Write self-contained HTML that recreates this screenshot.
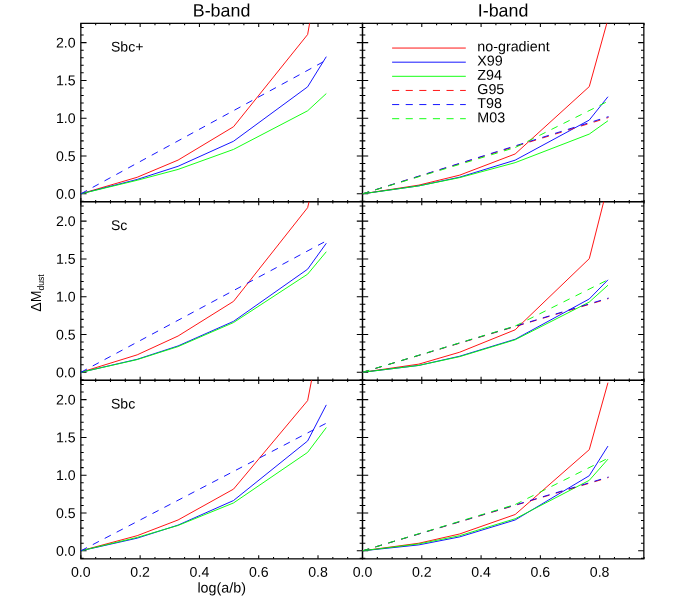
<!DOCTYPE html>
<html><head><meta charset="utf-8"><title>chart</title>
<style>html,body{margin:0;padding:0;background:#fff}body{width:673px;height:606px;overflow:hidden}</style></head>
<body>
<svg width="673" height="606" viewBox="0 0 673 606" style="display:block;will-change:transform">
<rect width="673" height="606" fill="#fff"/>
<defs>
<clipPath id="c00"><rect x="80.85" y="23.35" width="281.65" height="178.35"/></clipPath>
<clipPath id="c01"><rect x="362.50" y="23.35" width="281.35" height="178.35"/></clipPath>
<clipPath id="c10"><rect x="80.85" y="201.70" width="281.65" height="178.60"/></clipPath>
<clipPath id="c11"><rect x="362.50" y="201.70" width="281.35" height="178.60"/></clipPath>
<clipPath id="c20"><rect x="80.85" y="380.30" width="281.65" height="178.55"/></clipPath>
<clipPath id="c21"><rect x="362.50" y="380.30" width="281.35" height="178.55"/></clipPath>
</defs>
<g stroke="#000" fill="none" stroke-linecap="square">
<rect x="80.85" y="23.35" width="281.65" height="178.35" stroke-width="1.25"/>
<rect x="362.50" y="23.35" width="281.35" height="178.35" stroke-width="1.25"/>
<rect x="80.85" y="201.70" width="281.65" height="178.60" stroke-width="1.25"/>
<rect x="362.50" y="201.70" width="281.35" height="178.60" stroke-width="1.25"/>
<rect x="80.85" y="380.30" width="281.65" height="178.55" stroke-width="1.25"/>
<rect x="362.50" y="380.30" width="281.35" height="178.55" stroke-width="1.25"/>
</g>
<g stroke="#000" stroke-width="1.05" fill="none">
<path d="M80.85 201.70v-3.6M80.85 23.35v3.6"/>
<path d="M95.67 201.70v-1.8M95.67 23.35v1.8"/>
<path d="M110.49 201.70v-1.8M110.49 23.35v1.8"/>
<path d="M125.32 201.70v-1.8M125.32 23.35v1.8"/>
<path d="M140.14 201.70v-3.6M140.14 23.35v3.6"/>
<path d="M154.96 201.70v-1.8M154.96 23.35v1.8"/>
<path d="M169.79 201.70v-1.8M169.79 23.35v1.8"/>
<path d="M184.61 201.70v-1.8M184.61 23.35v1.8"/>
<path d="M199.43 201.70v-3.6M199.43 23.35v3.6"/>
<path d="M214.25 201.70v-1.8M214.25 23.35v1.8"/>
<path d="M229.07 201.70v-1.8M229.07 23.35v1.8"/>
<path d="M243.90 201.70v-1.8M243.90 23.35v1.8"/>
<path d="M258.72 201.70v-3.6M258.72 23.35v3.6"/>
<path d="M273.54 201.70v-1.8M273.54 23.35v1.8"/>
<path d="M288.37 201.70v-1.8M288.37 23.35v1.8"/>
<path d="M303.19 201.70v-1.8M303.19 23.35v1.8"/>
<path d="M318.01 201.70v-3.6M318.01 23.35v3.6"/>
<path d="M332.83 201.70v-1.8M332.83 23.35v1.8"/>
<path d="M347.65 201.70v-1.8M347.65 23.35v1.8"/>
<path d="M362.48 201.70v-1.8M362.48 23.35v1.8"/>
<path d="M80.85 201.36h2.85M362.50 201.36h-2.85"/>
<path d="M80.85 193.80h5.7M362.50 193.80h-5.7"/>
<path d="M80.85 186.24h2.85M362.50 186.24h-2.85"/>
<path d="M80.85 178.68h2.85M362.50 178.68h-2.85"/>
<path d="M80.85 171.12h2.85M362.50 171.12h-2.85"/>
<path d="M80.85 163.56h2.85M362.50 163.56h-2.85"/>
<path d="M80.85 156.00h5.7M362.50 156.00h-5.7"/>
<path d="M80.85 148.44h2.85M362.50 148.44h-2.85"/>
<path d="M80.85 140.88h2.85M362.50 140.88h-2.85"/>
<path d="M80.85 133.32h2.85M362.50 133.32h-2.85"/>
<path d="M80.85 125.76h2.85M362.50 125.76h-2.85"/>
<path d="M80.85 118.20h5.7M362.50 118.20h-5.7"/>
<path d="M80.85 110.64h2.85M362.50 110.64h-2.85"/>
<path d="M80.85 103.08h2.85M362.50 103.08h-2.85"/>
<path d="M80.85 95.52h2.85M362.50 95.52h-2.85"/>
<path d="M80.85 87.96h2.85M362.50 87.96h-2.85"/>
<path d="M80.85 80.40h5.7M362.50 80.40h-5.7"/>
<path d="M80.85 72.84h2.85M362.50 72.84h-2.85"/>
<path d="M80.85 65.28h2.85M362.50 65.28h-2.85"/>
<path d="M80.85 57.72h2.85M362.50 57.72h-2.85"/>
<path d="M80.85 50.16h2.85M362.50 50.16h-2.85"/>
<path d="M80.85 42.60h5.7M362.50 42.60h-5.7"/>
<path d="M80.85 35.04h2.85M362.50 35.04h-2.85"/>
<path d="M80.85 27.48h2.85M362.50 27.48h-2.85"/>
<path d="M362.50 201.70v-3.6M362.50 23.35v3.6"/>
<path d="M377.32 201.70v-1.8M377.32 23.35v1.8"/>
<path d="M392.14 201.70v-1.8M392.14 23.35v1.8"/>
<path d="M406.97 201.70v-1.8M406.97 23.35v1.8"/>
<path d="M421.79 201.70v-3.6M421.79 23.35v3.6"/>
<path d="M436.61 201.70v-1.8M436.61 23.35v1.8"/>
<path d="M451.44 201.70v-1.8M451.44 23.35v1.8"/>
<path d="M466.26 201.70v-1.8M466.26 23.35v1.8"/>
<path d="M481.08 201.70v-3.6M481.08 23.35v3.6"/>
<path d="M495.90 201.70v-1.8M495.90 23.35v1.8"/>
<path d="M510.73 201.70v-1.8M510.73 23.35v1.8"/>
<path d="M525.55 201.70v-1.8M525.55 23.35v1.8"/>
<path d="M540.37 201.70v-3.6M540.37 23.35v3.6"/>
<path d="M555.19 201.70v-1.8M555.19 23.35v1.8"/>
<path d="M570.01 201.70v-1.8M570.01 23.35v1.8"/>
<path d="M584.84 201.70v-1.8M584.84 23.35v1.8"/>
<path d="M599.66 201.70v-3.6M599.66 23.35v3.6"/>
<path d="M614.48 201.70v-1.8M614.48 23.35v1.8"/>
<path d="M629.31 201.70v-1.8M629.31 23.35v1.8"/>
<path d="M644.13 201.70v-1.8M644.13 23.35v1.8"/>
<path d="M362.50 201.36h2.85M643.85 201.36h-2.85"/>
<path d="M362.50 193.80h5.7M643.85 193.80h-5.7"/>
<path d="M362.50 186.24h2.85M643.85 186.24h-2.85"/>
<path d="M362.50 178.68h2.85M643.85 178.68h-2.85"/>
<path d="M362.50 171.12h2.85M643.85 171.12h-2.85"/>
<path d="M362.50 163.56h2.85M643.85 163.56h-2.85"/>
<path d="M362.50 156.00h5.7M643.85 156.00h-5.7"/>
<path d="M362.50 148.44h2.85M643.85 148.44h-2.85"/>
<path d="M362.50 140.88h2.85M643.85 140.88h-2.85"/>
<path d="M362.50 133.32h2.85M643.85 133.32h-2.85"/>
<path d="M362.50 125.76h2.85M643.85 125.76h-2.85"/>
<path d="M362.50 118.20h5.7M643.85 118.20h-5.7"/>
<path d="M362.50 110.64h2.85M643.85 110.64h-2.85"/>
<path d="M362.50 103.08h2.85M643.85 103.08h-2.85"/>
<path d="M362.50 95.52h2.85M643.85 95.52h-2.85"/>
<path d="M362.50 87.96h2.85M643.85 87.96h-2.85"/>
<path d="M362.50 80.40h5.7M643.85 80.40h-5.7"/>
<path d="M362.50 72.84h2.85M643.85 72.84h-2.85"/>
<path d="M362.50 65.28h2.85M643.85 65.28h-2.85"/>
<path d="M362.50 57.72h2.85M643.85 57.72h-2.85"/>
<path d="M362.50 50.16h2.85M643.85 50.16h-2.85"/>
<path d="M362.50 42.60h5.7M643.85 42.60h-5.7"/>
<path d="M362.50 35.04h2.85M643.85 35.04h-2.85"/>
<path d="M362.50 27.48h2.85M643.85 27.48h-2.85"/>
<path d="M80.85 380.30v-3.6M80.85 201.70v3.6"/>
<path d="M95.67 380.30v-1.8M95.67 201.70v1.8"/>
<path d="M110.49 380.30v-1.8M110.49 201.70v1.8"/>
<path d="M125.32 380.30v-1.8M125.32 201.70v1.8"/>
<path d="M140.14 380.30v-3.6M140.14 201.70v3.6"/>
<path d="M154.96 380.30v-1.8M154.96 201.70v1.8"/>
<path d="M169.79 380.30v-1.8M169.79 201.70v1.8"/>
<path d="M184.61 380.30v-1.8M184.61 201.70v1.8"/>
<path d="M199.43 380.30v-3.6M199.43 201.70v3.6"/>
<path d="M214.25 380.30v-1.8M214.25 201.70v1.8"/>
<path d="M229.07 380.30v-1.8M229.07 201.70v1.8"/>
<path d="M243.90 380.30v-1.8M243.90 201.70v1.8"/>
<path d="M258.72 380.30v-3.6M258.72 201.70v3.6"/>
<path d="M273.54 380.30v-1.8M273.54 201.70v1.8"/>
<path d="M288.37 380.30v-1.8M288.37 201.70v1.8"/>
<path d="M303.19 380.30v-1.8M303.19 201.70v1.8"/>
<path d="M318.01 380.30v-3.6M318.01 201.70v3.6"/>
<path d="M332.83 380.30v-1.8M332.83 201.70v1.8"/>
<path d="M347.65 380.30v-1.8M347.65 201.70v1.8"/>
<path d="M362.48 380.30v-1.8M362.48 201.70v1.8"/>
<path d="M80.85 379.86h2.85M362.50 379.86h-2.85"/>
<path d="M80.85 372.30h5.7M362.50 372.30h-5.7"/>
<path d="M80.85 364.74h2.85M362.50 364.74h-2.85"/>
<path d="M80.85 357.18h2.85M362.50 357.18h-2.85"/>
<path d="M80.85 349.62h2.85M362.50 349.62h-2.85"/>
<path d="M80.85 342.06h2.85M362.50 342.06h-2.85"/>
<path d="M80.85 334.50h5.7M362.50 334.50h-5.7"/>
<path d="M80.85 326.94h2.85M362.50 326.94h-2.85"/>
<path d="M80.85 319.38h2.85M362.50 319.38h-2.85"/>
<path d="M80.85 311.82h2.85M362.50 311.82h-2.85"/>
<path d="M80.85 304.26h2.85M362.50 304.26h-2.85"/>
<path d="M80.85 296.70h5.7M362.50 296.70h-5.7"/>
<path d="M80.85 289.14h2.85M362.50 289.14h-2.85"/>
<path d="M80.85 281.58h2.85M362.50 281.58h-2.85"/>
<path d="M80.85 274.02h2.85M362.50 274.02h-2.85"/>
<path d="M80.85 266.46h2.85M362.50 266.46h-2.85"/>
<path d="M80.85 258.90h5.7M362.50 258.90h-5.7"/>
<path d="M80.85 251.34h2.85M362.50 251.34h-2.85"/>
<path d="M80.85 243.78h2.85M362.50 243.78h-2.85"/>
<path d="M80.85 236.22h2.85M362.50 236.22h-2.85"/>
<path d="M80.85 228.66h2.85M362.50 228.66h-2.85"/>
<path d="M80.85 221.10h5.7M362.50 221.10h-5.7"/>
<path d="M80.85 213.54h2.85M362.50 213.54h-2.85"/>
<path d="M80.85 205.98h2.85M362.50 205.98h-2.85"/>
<path d="M362.50 380.30v-3.6M362.50 201.70v3.6"/>
<path d="M377.32 380.30v-1.8M377.32 201.70v1.8"/>
<path d="M392.14 380.30v-1.8M392.14 201.70v1.8"/>
<path d="M406.97 380.30v-1.8M406.97 201.70v1.8"/>
<path d="M421.79 380.30v-3.6M421.79 201.70v3.6"/>
<path d="M436.61 380.30v-1.8M436.61 201.70v1.8"/>
<path d="M451.44 380.30v-1.8M451.44 201.70v1.8"/>
<path d="M466.26 380.30v-1.8M466.26 201.70v1.8"/>
<path d="M481.08 380.30v-3.6M481.08 201.70v3.6"/>
<path d="M495.90 380.30v-1.8M495.90 201.70v1.8"/>
<path d="M510.73 380.30v-1.8M510.73 201.70v1.8"/>
<path d="M525.55 380.30v-1.8M525.55 201.70v1.8"/>
<path d="M540.37 380.30v-3.6M540.37 201.70v3.6"/>
<path d="M555.19 380.30v-1.8M555.19 201.70v1.8"/>
<path d="M570.01 380.30v-1.8M570.01 201.70v1.8"/>
<path d="M584.84 380.30v-1.8M584.84 201.70v1.8"/>
<path d="M599.66 380.30v-3.6M599.66 201.70v3.6"/>
<path d="M614.48 380.30v-1.8M614.48 201.70v1.8"/>
<path d="M629.31 380.30v-1.8M629.31 201.70v1.8"/>
<path d="M644.13 380.30v-1.8M644.13 201.70v1.8"/>
<path d="M362.50 379.86h2.85M643.85 379.86h-2.85"/>
<path d="M362.50 372.30h5.7M643.85 372.30h-5.7"/>
<path d="M362.50 364.74h2.85M643.85 364.74h-2.85"/>
<path d="M362.50 357.18h2.85M643.85 357.18h-2.85"/>
<path d="M362.50 349.62h2.85M643.85 349.62h-2.85"/>
<path d="M362.50 342.06h2.85M643.85 342.06h-2.85"/>
<path d="M362.50 334.50h5.7M643.85 334.50h-5.7"/>
<path d="M362.50 326.94h2.85M643.85 326.94h-2.85"/>
<path d="M362.50 319.38h2.85M643.85 319.38h-2.85"/>
<path d="M362.50 311.82h2.85M643.85 311.82h-2.85"/>
<path d="M362.50 304.26h2.85M643.85 304.26h-2.85"/>
<path d="M362.50 296.70h5.7M643.85 296.70h-5.7"/>
<path d="M362.50 289.14h2.85M643.85 289.14h-2.85"/>
<path d="M362.50 281.58h2.85M643.85 281.58h-2.85"/>
<path d="M362.50 274.02h2.85M643.85 274.02h-2.85"/>
<path d="M362.50 266.46h2.85M643.85 266.46h-2.85"/>
<path d="M362.50 258.90h5.7M643.85 258.90h-5.7"/>
<path d="M362.50 251.34h2.85M643.85 251.34h-2.85"/>
<path d="M362.50 243.78h2.85M643.85 243.78h-2.85"/>
<path d="M362.50 236.22h2.85M643.85 236.22h-2.85"/>
<path d="M362.50 228.66h2.85M643.85 228.66h-2.85"/>
<path d="M362.50 221.10h5.7M643.85 221.10h-5.7"/>
<path d="M362.50 213.54h2.85M643.85 213.54h-2.85"/>
<path d="M362.50 205.98h2.85M643.85 205.98h-2.85"/>
<path d="M80.85 558.85v-3.6M80.85 380.30v3.6"/>
<path d="M95.67 558.85v-1.8M95.67 380.30v1.8"/>
<path d="M110.49 558.85v-1.8M110.49 380.30v1.8"/>
<path d="M125.32 558.85v-1.8M125.32 380.30v1.8"/>
<path d="M140.14 558.85v-3.6M140.14 380.30v3.6"/>
<path d="M154.96 558.85v-1.8M154.96 380.30v1.8"/>
<path d="M169.79 558.85v-1.8M169.79 380.30v1.8"/>
<path d="M184.61 558.85v-1.8M184.61 380.30v1.8"/>
<path d="M199.43 558.85v-3.6M199.43 380.30v3.6"/>
<path d="M214.25 558.85v-1.8M214.25 380.30v1.8"/>
<path d="M229.07 558.85v-1.8M229.07 380.30v1.8"/>
<path d="M243.90 558.85v-1.8M243.90 380.30v1.8"/>
<path d="M258.72 558.85v-3.6M258.72 380.30v3.6"/>
<path d="M273.54 558.85v-1.8M273.54 380.30v1.8"/>
<path d="M288.37 558.85v-1.8M288.37 380.30v1.8"/>
<path d="M303.19 558.85v-1.8M303.19 380.30v1.8"/>
<path d="M318.01 558.85v-3.6M318.01 380.30v3.6"/>
<path d="M332.83 558.85v-1.8M332.83 380.30v1.8"/>
<path d="M347.65 558.85v-1.8M347.65 380.30v1.8"/>
<path d="M362.48 558.85v-1.8M362.48 380.30v1.8"/>
<path d="M80.85 558.36h2.85M362.50 558.36h-2.85"/>
<path d="M80.85 550.80h5.7M362.50 550.80h-5.7"/>
<path d="M80.85 543.24h2.85M362.50 543.24h-2.85"/>
<path d="M80.85 535.68h2.85M362.50 535.68h-2.85"/>
<path d="M80.85 528.12h2.85M362.50 528.12h-2.85"/>
<path d="M80.85 520.56h2.85M362.50 520.56h-2.85"/>
<path d="M80.85 513.00h5.7M362.50 513.00h-5.7"/>
<path d="M80.85 505.44h2.85M362.50 505.44h-2.85"/>
<path d="M80.85 497.88h2.85M362.50 497.88h-2.85"/>
<path d="M80.85 490.32h2.85M362.50 490.32h-2.85"/>
<path d="M80.85 482.76h2.85M362.50 482.76h-2.85"/>
<path d="M80.85 475.20h5.7M362.50 475.20h-5.7"/>
<path d="M80.85 467.64h2.85M362.50 467.64h-2.85"/>
<path d="M80.85 460.08h2.85M362.50 460.08h-2.85"/>
<path d="M80.85 452.52h2.85M362.50 452.52h-2.85"/>
<path d="M80.85 444.96h2.85M362.50 444.96h-2.85"/>
<path d="M80.85 437.40h5.7M362.50 437.40h-5.7"/>
<path d="M80.85 429.84h2.85M362.50 429.84h-2.85"/>
<path d="M80.85 422.28h2.85M362.50 422.28h-2.85"/>
<path d="M80.85 414.72h2.85M362.50 414.72h-2.85"/>
<path d="M80.85 407.16h2.85M362.50 407.16h-2.85"/>
<path d="M80.85 399.60h5.7M362.50 399.60h-5.7"/>
<path d="M80.85 392.04h2.85M362.50 392.04h-2.85"/>
<path d="M80.85 384.48h2.85M362.50 384.48h-2.85"/>
<path d="M362.50 558.85v-3.6M362.50 380.30v3.6"/>
<path d="M377.32 558.85v-1.8M377.32 380.30v1.8"/>
<path d="M392.14 558.85v-1.8M392.14 380.30v1.8"/>
<path d="M406.97 558.85v-1.8M406.97 380.30v1.8"/>
<path d="M421.79 558.85v-3.6M421.79 380.30v3.6"/>
<path d="M436.61 558.85v-1.8M436.61 380.30v1.8"/>
<path d="M451.44 558.85v-1.8M451.44 380.30v1.8"/>
<path d="M466.26 558.85v-1.8M466.26 380.30v1.8"/>
<path d="M481.08 558.85v-3.6M481.08 380.30v3.6"/>
<path d="M495.90 558.85v-1.8M495.90 380.30v1.8"/>
<path d="M510.73 558.85v-1.8M510.73 380.30v1.8"/>
<path d="M525.55 558.85v-1.8M525.55 380.30v1.8"/>
<path d="M540.37 558.85v-3.6M540.37 380.30v3.6"/>
<path d="M555.19 558.85v-1.8M555.19 380.30v1.8"/>
<path d="M570.01 558.85v-1.8M570.01 380.30v1.8"/>
<path d="M584.84 558.85v-1.8M584.84 380.30v1.8"/>
<path d="M599.66 558.85v-3.6M599.66 380.30v3.6"/>
<path d="M614.48 558.85v-1.8M614.48 380.30v1.8"/>
<path d="M629.31 558.85v-1.8M629.31 380.30v1.8"/>
<path d="M644.13 558.85v-1.8M644.13 380.30v1.8"/>
<path d="M362.50 558.36h2.85M643.85 558.36h-2.85"/>
<path d="M362.50 550.80h5.7M643.85 550.80h-5.7"/>
<path d="M362.50 543.24h2.85M643.85 543.24h-2.85"/>
<path d="M362.50 535.68h2.85M643.85 535.68h-2.85"/>
<path d="M362.50 528.12h2.85M643.85 528.12h-2.85"/>
<path d="M362.50 520.56h2.85M643.85 520.56h-2.85"/>
<path d="M362.50 513.00h5.7M643.85 513.00h-5.7"/>
<path d="M362.50 505.44h2.85M643.85 505.44h-2.85"/>
<path d="M362.50 497.88h2.85M643.85 497.88h-2.85"/>
<path d="M362.50 490.32h2.85M643.85 490.32h-2.85"/>
<path d="M362.50 482.76h2.85M643.85 482.76h-2.85"/>
<path d="M362.50 475.20h5.7M643.85 475.20h-5.7"/>
<path d="M362.50 467.64h2.85M643.85 467.64h-2.85"/>
<path d="M362.50 460.08h2.85M643.85 460.08h-2.85"/>
<path d="M362.50 452.52h2.85M643.85 452.52h-2.85"/>
<path d="M362.50 444.96h2.85M643.85 444.96h-2.85"/>
<path d="M362.50 437.40h5.7M643.85 437.40h-5.7"/>
<path d="M362.50 429.84h2.85M643.85 429.84h-2.85"/>
<path d="M362.50 422.28h2.85M643.85 422.28h-2.85"/>
<path d="M362.50 414.72h2.85M643.85 414.72h-2.85"/>
<path d="M362.50 407.16h2.85M643.85 407.16h-2.85"/>
<path d="M362.50 399.60h5.7M643.85 399.60h-5.7"/>
<path d="M362.50 392.04h2.85M643.85 392.04h-2.85"/>
<path d="M362.50 384.48h2.85M643.85 384.48h-2.85"/>
</g>
<g clip-path="url(#c00)" fill="none" stroke-width="0.92" stroke-linejoin="round">
<polyline points="80.85,193.80 137.18,177.28 178.09,160.08 233.52,126.74 307.63,34.51 326.31,-70.80" stroke="#ff0000"/>
<polyline points="80.85,193.80 137.18,179.44 178.09,166.28 233.52,141.26 307.63,86.83 326.31,56.66" stroke="#0000ff"/>
<polyline points="80.85,193.80 137.18,180.27 178.09,169.42 233.52,149.42 307.63,110.79 326.31,93.55" stroke="#00ff00"/>
<polyline points="80.85,193.80 326.90,59.84" stroke="#0000ff" stroke-dasharray="6.9 6.55"/>
</g>
<g clip-path="url(#c10)" fill="none" stroke-width="0.92" stroke-linejoin="round">
<polyline points="80.85,372.30 137.18,354.84 178.09,336.01 233.52,301.39 307.63,207.64 326.31,130.38" stroke="#ff0000"/>
<polyline points="80.85,372.30 137.18,359.30 178.09,345.92 233.52,321.35 307.63,269.18 326.31,243.25" stroke="#0000ff"/>
<polyline points="80.85,372.30 137.18,359.60 178.09,346.60 233.52,322.56 307.63,274.17 326.31,251.72" stroke="#00ff00"/>
<polyline points="80.85,372.30 326.90,240.60" stroke="#0000ff" stroke-dasharray="6.9 6.55"/>
</g>
<g clip-path="url(#c20)" fill="none" stroke-width="0.92" stroke-linejoin="round">
<polyline points="80.85,550.80 137.18,535.68 178.09,519.96 233.52,489.11 307.63,400.58 326.31,304.34" stroke="#ff0000"/>
<polyline points="80.85,550.80 137.18,538.17 178.09,525.10 233.52,500.53 307.63,440.95 326.31,404.89" stroke="#0000ff"/>
<polyline points="80.85,550.80 137.18,537.42 178.09,525.47 233.52,502.95 307.63,452.37 326.31,427.57" stroke="#00ff00"/>
<polyline points="80.85,550.80 326.90,422.88" stroke="#0000ff" stroke-dasharray="6.9 6.55"/>
</g>
<g clip-path="url(#c01)" fill="none" stroke-width="0.92" stroke-linejoin="round">
<polyline points="362.50,193.80 418.83,185.11 459.74,175.13 515.17,153.96 589.28,86.60 607.96,19.16" stroke="#ff0000"/>
<polyline points="362.50,193.80 418.83,185.86 459.74,177.17 515.17,160.16 589.28,120.09 607.96,96.73" stroke="#0000ff"/>
<polyline points="362.50,193.80 418.83,185.86 459.74,177.62 515.17,162.65 589.28,134.08 607.96,120.77" stroke="#00ff00"/>
<polyline points="362.50,193.80 608.55,117.52" stroke="#ff0000" stroke-dasharray="6.9 6.55"/>
<polyline points="362.50,193.80 608.55,116.61" stroke="#0000ff" stroke-dasharray="6.9 6.55"/>
<polyline points="362.50,193.80 515.17,147.53" stroke="#00ff00" stroke-dasharray="6.9 6.55"/>
<polyline points="515.17,147.53 607.96,101.27" stroke="#00ff00" stroke-dasharray="6.9 6.55" stroke-dashoffset="13.28"/>
</g>
<g clip-path="url(#c11)" fill="none" stroke-width="0.92" stroke-linejoin="round">
<polyline points="362.50,372.30 418.83,364.14 459.74,352.19 515.17,329.81 589.28,258.67 607.96,184.81" stroke="#ff0000"/>
<polyline points="362.50,372.30 418.83,365.42 459.74,356.20 515.17,339.26 589.28,298.97 607.96,279.84" stroke="#0000ff"/>
<polyline points="362.50,372.30 418.83,365.42 459.74,356.65 515.17,339.79 589.28,302.07 607.96,285.21" stroke="#00ff00"/>
<polyline points="362.50,372.30 608.55,298.59" stroke="#ff0000" stroke-dasharray="6.9 6.55"/>
<polyline points="362.50,372.30 608.55,298.06" stroke="#0000ff" stroke-dasharray="6.9 6.55"/>
<polyline points="362.50,372.30 515.17,326.03" stroke="#00ff00" stroke-dasharray="6.9 6.55"/>
<polyline points="515.17,326.03 607.96,279.77" stroke="#00ff00" stroke-dasharray="6.9 6.55" stroke-dashoffset="13.28"/>
</g>
<g clip-path="url(#c21)" fill="none" stroke-width="0.92" stroke-linejoin="round">
<polyline points="362.50,550.80 418.83,543.24 459.74,533.94 515.17,514.51 589.28,449.65 607.96,382.67" stroke="#ff0000"/>
<polyline points="362.50,550.80 418.83,544.90 459.74,536.89 515.17,519.96 589.28,475.73 607.96,446.09" stroke="#0000ff"/>
<polyline points="362.50,550.80 418.83,543.92 459.74,535.68 515.17,518.75 589.28,480.34 607.96,459.17" stroke="#00ff00"/>
<polyline points="362.50,550.80 608.55,477.54" stroke="#ff0000" stroke-dasharray="6.9 6.55"/>
<polyline points="362.50,550.80 608.55,477.01" stroke="#0000ff" stroke-dasharray="6.9 6.55"/>
<polyline points="362.50,550.80 515.17,504.53" stroke="#00ff00" stroke-dasharray="6.9 6.55"/>
<polyline points="515.17,504.53 607.96,458.27" stroke="#00ff00" stroke-dasharray="6.9 6.55" stroke-dashoffset="13.28"/>
</g>
<g font-family="Liberation Sans, sans-serif" font-size="14.15" fill="#000">
<text x="75.60" y="198.70" text-anchor="end" transform="rotate(0.03 75.60 198.70)">0.0</text>
<text x="75.60" y="160.90" text-anchor="end" transform="rotate(0.03 75.60 160.90)">0.5</text>
<text x="75.60" y="123.10" text-anchor="end" transform="rotate(0.03 75.60 123.10)">1.0</text>
<text x="75.60" y="85.30" text-anchor="end" transform="rotate(0.03 75.60 85.30)">1.5</text>
<text x="75.60" y="47.50" text-anchor="end" transform="rotate(0.03 75.60 47.50)">2.0</text>
<text x="75.60" y="377.20" text-anchor="end" transform="rotate(0.03 75.60 377.20)">0.0</text>
<text x="75.60" y="339.40" text-anchor="end" transform="rotate(0.03 75.60 339.40)">0.5</text>
<text x="75.60" y="301.60" text-anchor="end" transform="rotate(0.03 75.60 301.60)">1.0</text>
<text x="75.60" y="263.80" text-anchor="end" transform="rotate(0.03 75.60 263.80)">1.5</text>
<text x="75.60" y="226.00" text-anchor="end" transform="rotate(0.03 75.60 226.00)">2.0</text>
<text x="75.60" y="555.70" text-anchor="end" transform="rotate(0.03 75.60 555.70)">0.0</text>
<text x="75.60" y="517.90" text-anchor="end" transform="rotate(0.03 75.60 517.90)">0.5</text>
<text x="75.60" y="480.10" text-anchor="end" transform="rotate(0.03 75.60 480.10)">1.0</text>
<text x="75.60" y="442.30" text-anchor="end" transform="rotate(0.03 75.60 442.30)">1.5</text>
<text x="75.60" y="404.50" text-anchor="end" transform="rotate(0.03 75.60 404.50)">2.0</text>
<text x="80.85" y="576.70" text-anchor="middle" transform="rotate(0.03 80.85 576.70)">0.0</text>
<text x="140.14" y="576.70" text-anchor="middle" transform="rotate(0.03 140.14 576.70)">0.2</text>
<text x="199.43" y="576.70" text-anchor="middle" transform="rotate(0.03 199.43 576.70)">0.4</text>
<text x="258.72" y="576.70" text-anchor="middle" transform="rotate(0.03 258.72 576.70)">0.6</text>
<text x="318.01" y="576.70" text-anchor="middle" transform="rotate(0.03 318.01 576.70)">0.8</text>
<text x="362.50" y="576.70" text-anchor="middle" transform="rotate(0.03 362.50 576.70)">0.0</text>
<text x="421.79" y="576.70" text-anchor="middle" transform="rotate(0.03 421.79 576.70)">0.2</text>
<text x="481.08" y="576.70" text-anchor="middle" transform="rotate(0.03 481.08 576.70)">0.4</text>
<text x="540.37" y="576.70" text-anchor="middle" transform="rotate(0.03 540.37 576.70)">0.6</text>
<text x="599.66" y="576.70" text-anchor="middle" transform="rotate(0.03 599.66 576.70)">0.8</text>
<text x="221.68" y="592.60" text-anchor="middle" font-size="14.3" transform="rotate(0.03 221.68 592.60)">log(a/b)</text>
<text x="111.00" y="51.55" font-size="14.05" transform="rotate(0.03 111.00 51.55)">Sbc+</text>
<text x="111.00" y="229.90" font-size="14.05" transform="rotate(0.03 111.00 229.90)">Sc</text>
<text x="111.00" y="408.50" font-size="14.05" transform="rotate(0.03 111.00 408.50)">Sbc</text>
<text x="221.55" y="16.60" text-anchor="middle" font-size="17.85" transform="rotate(0.03 221.55 16.60)">B-band</text>
<text x="503.10" y="16.60" text-anchor="middle" font-size="17.85" transform="rotate(0.03 503.10 16.60)">I-band</text>
<text transform="translate(41,311.8) rotate(-90)">ΔM<tspan font-size="8.6" dy="2.8">dust</tspan></text>
<text x="477.30" y="51.30" font-size="14.3" transform="rotate(0.03 477.30 51.30)">no-gradient</text>
<text x="477.30" y="65.50" font-size="14.3" transform="rotate(0.03 477.30 65.50)">X99</text>
<text x="477.30" y="79.70" font-size="14.3" transform="rotate(0.03 477.30 79.70)">Z94</text>
<text x="477.30" y="93.90" font-size="14.3" transform="rotate(0.03 477.30 93.90)">G95</text>
<text x="477.30" y="108.10" font-size="14.3" transform="rotate(0.03 477.30 108.10)">T98</text>
<text x="477.30" y="122.30" font-size="14.3" transform="rotate(0.03 477.30 122.30)">M03</text>
</g>
<g fill="none" stroke-width="0.92">
<path d="M392.1 48.05H465.8" stroke="#ff0000"/>
<path d="M392.1 62.18H465.8" stroke="#0000ff"/>
<path d="M392.1 76.31H465.8" stroke="#00ff00"/>
<path d="M392.1 90.44H465.8" stroke="#ff0000" stroke-dasharray="7.1 6.5"/>
<path d="M392.1 104.57H465.8" stroke="#0000ff" stroke-dasharray="7.1 6.5"/>
<path d="M392.1 118.70H465.8" stroke="#00ff00" stroke-dasharray="7.1 6.5"/>
</g>
</svg>
</body></html>
